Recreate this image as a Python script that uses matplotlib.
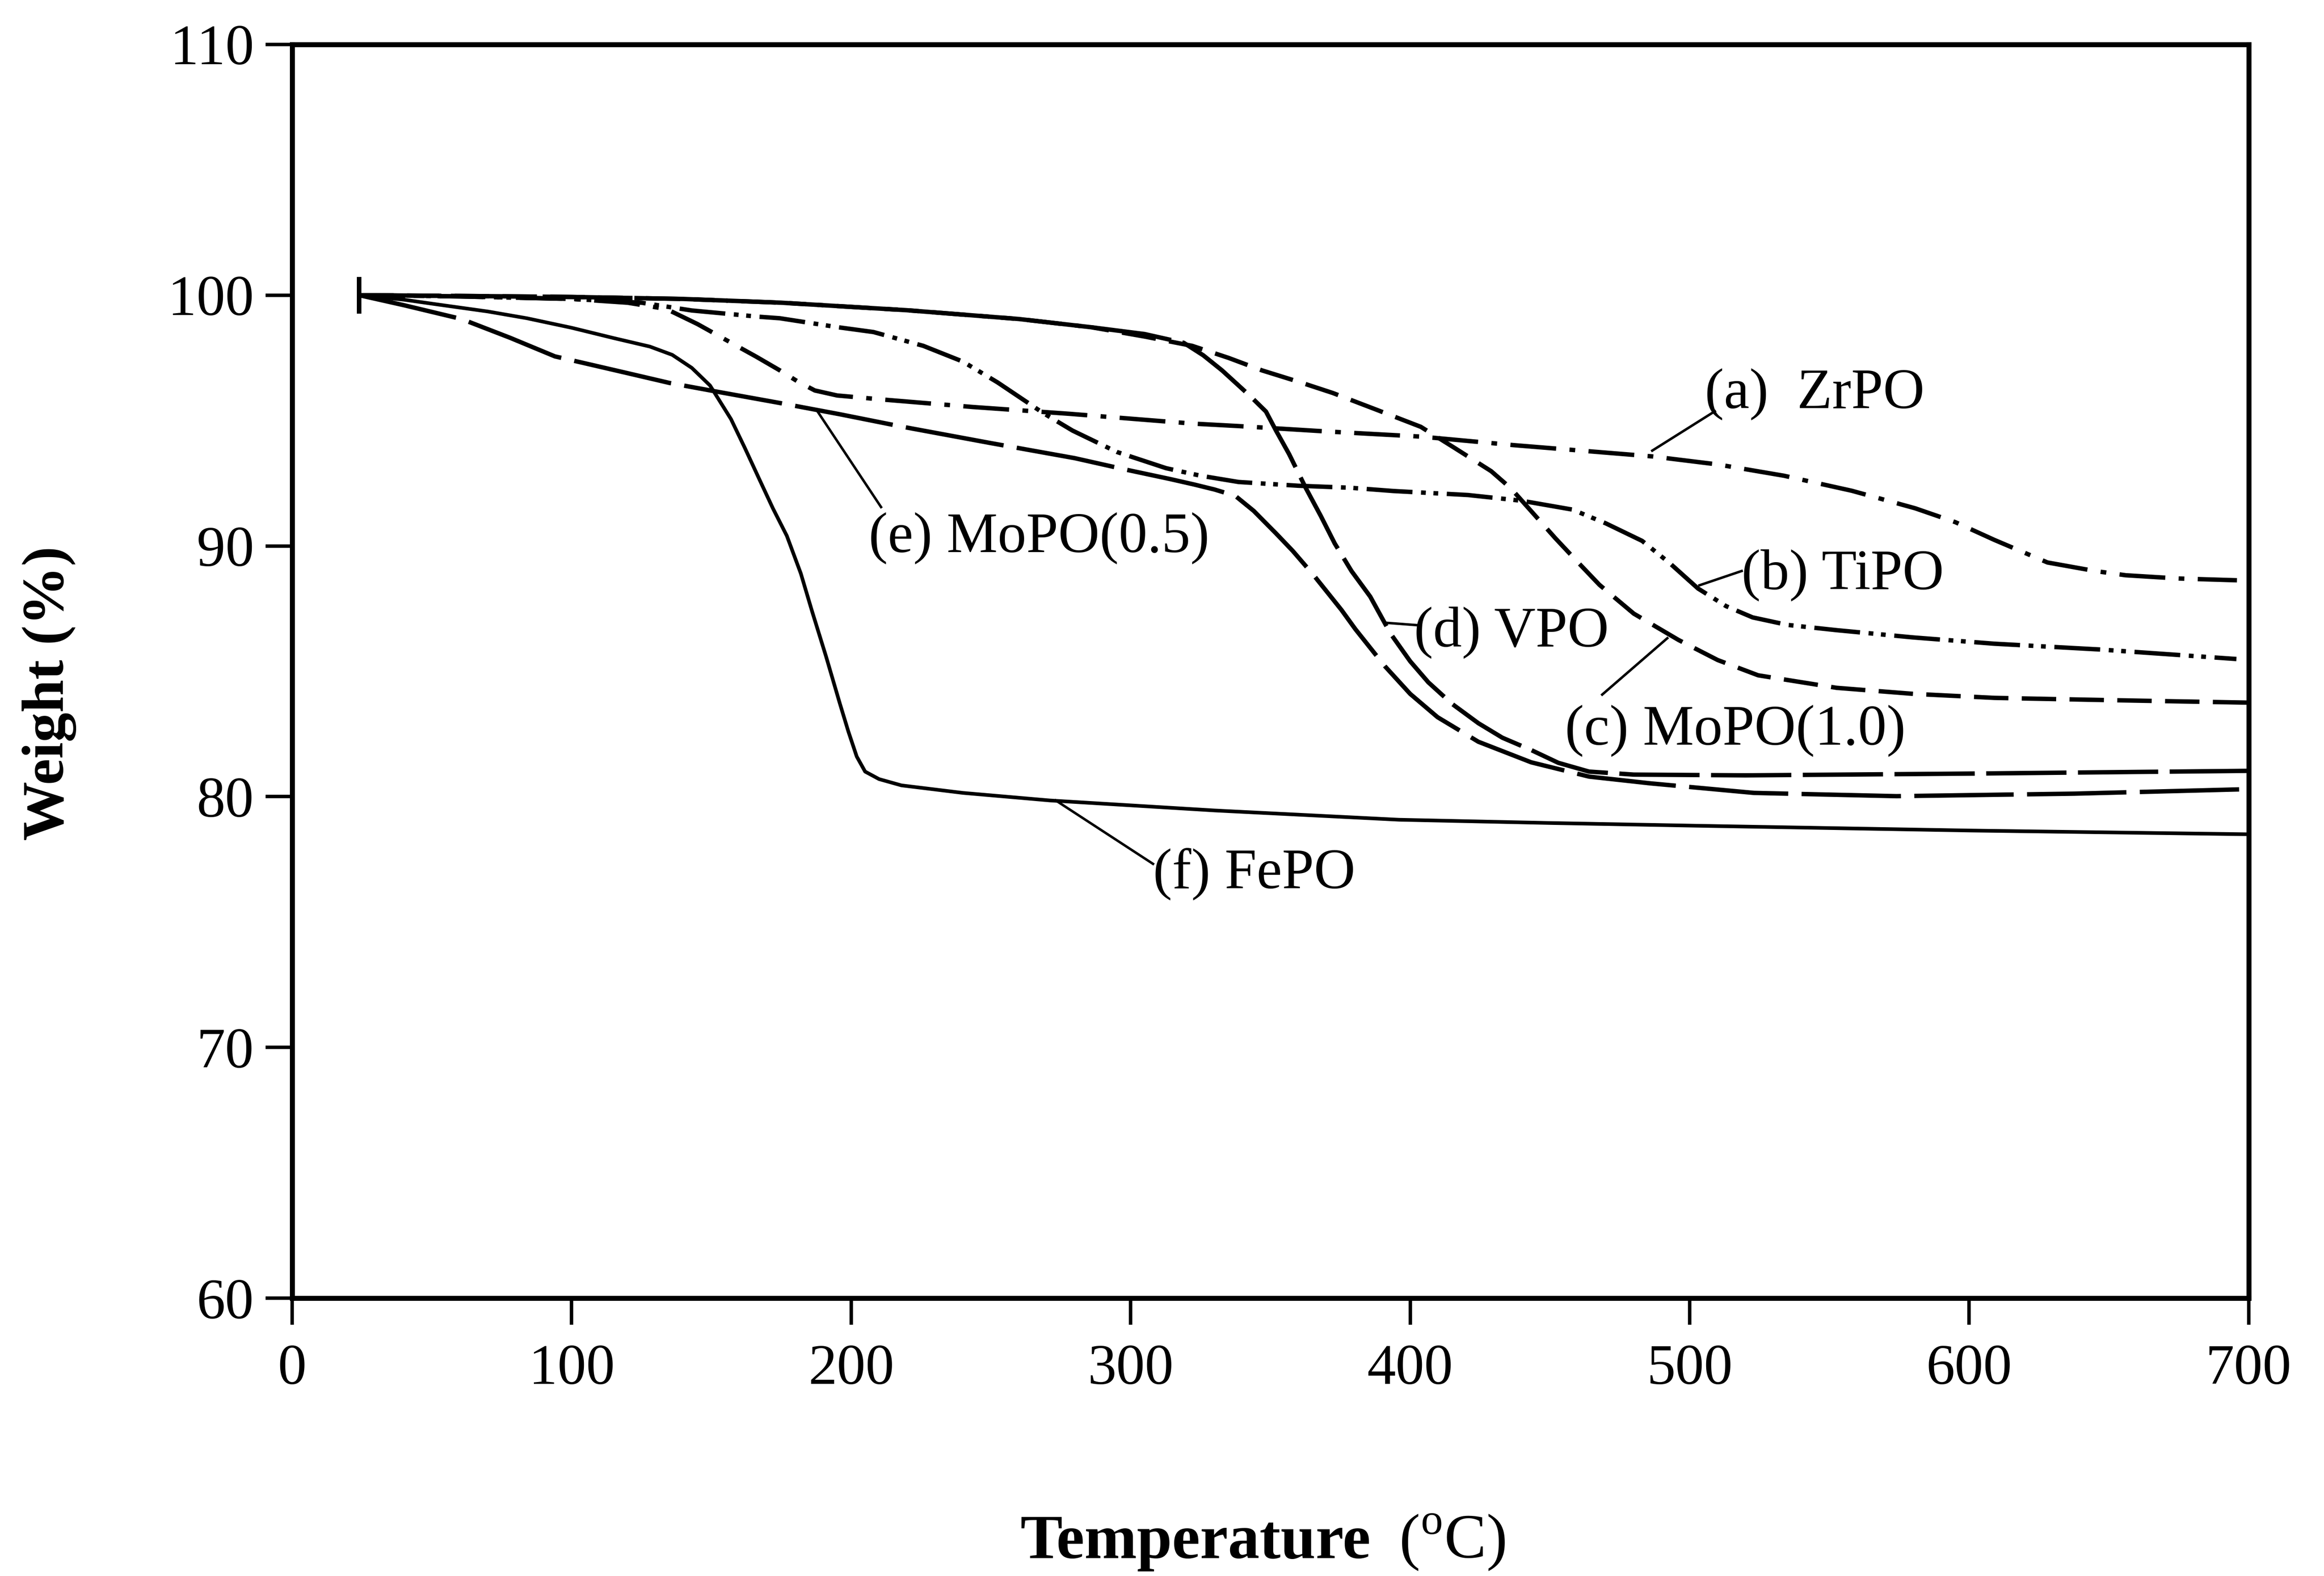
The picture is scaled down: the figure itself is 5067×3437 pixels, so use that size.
import numpy as np
import matplotlib
matplotlib.use("Agg")
import matplotlib.pyplot as plt

plt.rcParams['font.family'] = ['Liberation Serif', 'DejaVu Serif']
plt.rcParams['mathtext.fontset'] = 'custom'
plt.rcParams['mathtext.rm'] = 'Liberation Serif'
plt.rcParams['lines.scale_dashes'] = False

# TGA curves (temperature in C, weight in %)
t_zrpo = [24, 60, 100, 120, 133.9, 145, 157.9, 166, 174.5, 181, 187, 195, 210, 243.6, 278, 322,
          338.6, 369.3, 403.8, 437, 486.6, 510, 533.7, 558, 580.7, 595, 609, 628, 645, 656, 675, 695.8]
w_zrpo = [100, 99.95, 99.85, 99.7, 99.45, 98.85, 98.05, 97.55, 97.0, 96.55, 96.2, 96.0, 95.85, 95.54, 95.27, 94.88,
          94.78, 94.57, 94.36, 94.02, 93.57, 93.25, 92.8, 92.2, 91.5, 90.95, 90.24, 89.34, 89.0, 88.83, 88.7, 88.63]

t_tipo = [24, 60, 100, 125, 143, 167, 174.5, 195.4, 208, 225.8, 240, 252.4, 268.7, 279.2, 295, 312.7, 325, 338.6,
          360, 378.6, 394, 420.7, 440, 458, 470, 483, 493, 503, 513, 522.5, 535, 552.6, 580, 609, 646.7, 695.6]
w_tipo = [100, 99.95, 99.85, 99.7, 99.39, 99.14, 99.08, 98.72, 98.53, 97.98, 97.35, 96.52, 95.3, 94.6, 93.75, 93.1, 92.8, 92.55,
          92.4, 92.32, 92.19, 92.03, 91.8, 91.45, 90.9, 90.2, 89.3, 88.3, 87.6, 87.15, 86.85, 86.64, 86.35, 86.1, 85.87, 85.49]

t_mopo10 = [24, 60, 100, 140, 175, 220, 260, 286, 305, 322, 335, 347, 360, 372.3, 388, 403.8, 416, 429, 436,
            444, 452, 460, 467.7, 480, 496, 510, 524.5, 552.6, 580, 609, 650, 700]
w_mopo10 = [100, 99.97, 99.93, 99.85, 99.7, 99.4, 99.05, 98.72, 98.35, 97.98, 97.5, 97.0, 96.55, 96.1, 95.43, 94.75, 93.9, 92.98, 92.3,
            91.3, 90.3, 89.35, 88.45, 87.3, 86.25, 85.45, 84.84, 84.34, 84.1, 83.94, 83.85, 83.75]

t_vpo = [24, 60, 100, 140, 175, 220, 260, 286, 305, 319, 326, 332.7, 338.6, 343, 348.4, 352, 356.7, 362.7, 368, 373,
         379, 385.7, 393, 400, 406.5, 415, 424.4, 433, 443.3, 453, 464, 480, 520, 600, 700]
w_vpo = [100, 99.97, 99.93, 99.85, 99.7, 99.4, 99.05, 98.72, 98.45, 98.1, 97.6, 97.0, 96.4, 95.95, 95.36, 94.6, 93.66, 92.3, 91.2, 90.1,
         89.0, 87.98, 86.5, 85.4, 84.56, 83.7, 82.93, 82.35, 81.86, 81.35, 81.0, 80.88, 80.85, 80.92, 81.03]

t_mopo05 = [24, 40, 60.6, 78, 94, 108, 120, 135, 151.6, 174.5, 196, 218.5, 250, 280, 298, 314, 322.7, 330, 337.4,
            344, 352, 358, 365.2, 375.4, 380.4, 390.9, 400, 409.8, 424.4, 443.3, 464, 486, 523, 574, 637.6, 700]
w_mopo05 = [100, 99.6, 99.05, 98.3, 97.56, 97.2, 96.89, 96.5, 96.16, 95.7, 95.25, 94.75, 94.1, 93.5, 93.05, 92.67, 92.45, 92.25, 92.0,
            91.4, 90.5, 89.8, 88.87, 87.45, 86.68, 85.21, 84.1, 83.17, 82.19, 81.37, 80.8, 80.53, 80.15, 80.02, 80.12, 80.3]

t_fepo = [24, 40, 52, 70, 84, 100, 115, 128, 136, 143, 149.5, 157, 162, 167.4, 172, 177, 182, 186, 191, 196,
          199, 202, 205, 210, 218, 240, 271, 330, 396, 450, 503, 600, 700]
w_fepo = [100, 99.82, 99.63, 99.35, 99.08, 98.7, 98.29, 97.95, 97.62, 97.1, 96.4, 95.06, 93.9, 92.6, 91.5, 90.4, 88.9, 87.4, 85.6, 83.7,
          82.6, 81.6, 81.0, 80.7, 80.45, 80.15, 79.85, 79.45, 79.08, 78.95, 78.84, 78.65, 78.5]

labels = ['(a)  ZrPO', '(b) TiPO', '(c) MoPO(1.0)', '(d) VPO', '(e) MoPO(0.5)', '(f) FePO']
label_xy = [(505.4, 96.04), (518.6, 88.83), (455.3, 82.62), (401.4, 86.54), (206.3, 90.3), (308, 76.9)]
leaders = [((486.6, 509), (93.8, 95.37)),
           ((503.5, 518.6), (88.43, 89.0)),
           ((468.7, 492), (84.07, 86.32)),
           ((391.9, 402.5), (86.93, 86.84)),
           ((188, 210.7), (95.36, 91.55)),
           ((273.2, 308), (79.85, 77.32))]

fig = plt.figure(figsize=(5067 / 300, 3437 / 300), dpi=300)
ax = fig.add_axes([0.1257, 0.1763, 0.8419, 0.7955])

lw = 2.3
ax.plot(t_zrpo, w_zrpo, color='black', lw=lw, dashes=(24, 7, 3, 7))
ax.plot(t_tipo, w_tipo, color='black', lw=lw, dashes=(24, 4.5, 2.5, 4, 2.5, 4.5))
ax.plot(t_mopo10, w_mopo10, color='black', lw=lw, dashes=(18, 7))
ax.plot(t_vpo, w_vpo, color='black', lw=lw, dashes=(42, 6))
ax.plot(t_mopo05, w_mopo05, color='black', lw=lw, dashes=(52, 7))
ax.plot(t_fepo, w_fepo, color='black', lw=1.9)

# start marker
ax.plot([24], [100], marker='|', markersize=19, mew=2.4, color='black')

for (lx, ly), txt, (xs, ys) in zip(label_xy, labels, leaders):
    ax.plot(xs, ys, color='black', lw=1.3)
    ax.text(lx, ly, txt, fontsize=30, ha='left', va='center')

ax.set_xlim(0, 700)
ax.set_ylim(60, 110)
ax.set_xticks(np.arange(0, 701, 100))
ax.set_yticks(np.arange(60, 111, 10))
ax.tick_params(axis='both', direction='out', length=14, width=1.8, labelsize=30)
ax.tick_params(axis='x', pad=10)
ax.tick_params(axis='y', pad=6)
for s in ax.spines.values():
    s.set_linewidth(2.6)

fig.text(0.0213, 0.560, 'Weight (%)', rotation=90, fontsize=31, fontweight='bold',
         ha='center', va='center')
fig.text(2989 / 5067, 0.0114, 'Temperature', fontsize=33, fontweight='bold', ha='right', va='baseline')
fig.text(3050 / 5067, 0.0114, r'($^{\mathrm{o}}$C)', fontsize=33, ha='left', va='baseline')

fig.savefig('out.png', dpi=300, facecolor='white')
